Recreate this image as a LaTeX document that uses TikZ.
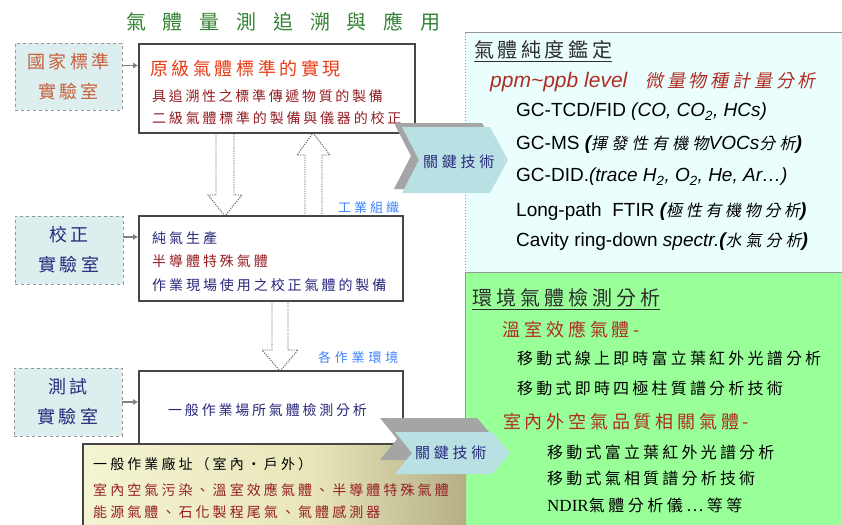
\documentclass[tikz,border=0pt]{standalone}
\usepackage{fontspec}
\setmainfont{Noto Sans CJK TC}
\newfontfamily\lat{Liberation Sans}
\newfontfamily\latser{Liberation Serif}
\newfontfamily\cjksl{Noto Sans CJK TC}[FakeSlant=0.2]
\usetikzlibrary{arrows.meta}

% size and tracking for a run of text
\newcommand\fs[2]{\fontsize{#1}{#1}\selectfont\addfontfeature{LetterSpace=#2}}

\definecolor{titlegreen}{RGB}{50,130,50}
\definecolor{natorange}{RGB}{200,95,60}
\definecolor{headred}{RGB}{232,60,22}
\definecolor{darkred}{RGB}{150,30,35}
\definecolor{envred}{RGB}{175,45,35}
\definecolor{navy}{RGB}{40,40,125}
\definecolor{linkblue}{RGB}{60,130,255}
\definecolor{labfill}{RGB}{220,238,238}
\definecolor{labline}{RGB}{150,150,150}
\definecolor{boxline}{RGB}{70,70,70}
\definecolor{puretop}{RGB}{234,254,254}
\definecolor{envgreen}{RGB}{153,255,153}
\definecolor{keyteal}{RGB}{185,225,228}
\definecolor{keyshadow}{RGB}{165,165,165}
\definecolor{feedgray}{RGB}{130,130,130}
\definecolor{dotgray}{RGB}{90,90,90}
\definecolor{headgray}{RGB}{45,45,45}
\definecolor{fadeA}{RGB}{255,255,232}
\definecolor{fadeB}{RGB}{232,230,185}
\definecolor{fadeC}{RGB}{115,105,68}
\pgfdeclarehorizontalshading{groundfade}{100bp}{color(0bp)=(fadeA); color(55bp)=(fadeB); color(100bp)=(fadeC)}

\tikzset{
  labbox/.style={draw=labline, dashed, fill=labfill, line width=0.9pt},
  labtext/.style={font=\fontsize{18}{30}\selectfont\addfontfeature{LetterSpace=17}, align=center},
  mainbox/.style={draw=boxline, fill=white, line width=1.6pt, inner sep=0},
  feed/.style={draw=feedgray, line width=1.2pt, -{Latex[length=5pt,width=6pt]}},
  hollow/.style={draw=dotgray, fill=white, dash pattern=on 1.2pt off 1.2pt, line width=0.9pt},
  txt/.style={inner sep=0, anchor=west},
  keyface/.style={fill=keyteal},
  keyback/.style={fill=keyshadow},
}

\begin{document}
\begin{tikzpicture}[x=1pt,y=-1pt]
\useasboundingbox (0,0) rectangle (842,524);

% right-hand panels
\fill[puretop] (465,33) rectangle (842,272);
\draw[labline, line width=1pt] (465,33) -- (842,33);
\draw[labline, dotted, line width=1pt] (465,33) -- (465,272);
\fill[envgreen] (465,272) rectangle (842,526);
\draw[labline, line width=1pt] (465,272) -- (842,272);
\draw[labline, line width=1pt] (465,272) -- (465,526);

% title
\node[txt, text=titlegreen] (title) at (126,22) {\fs{20}{84}氣體量測追溯與應用};

% hollow flow arrows between the levels
\draw[hollow] (216,133) -- (216,195) -- (208,195) -- (225,216) -- (242,195) -- (234,195) -- (234,133);
\draw[hollow] (305,216) -- (305,155) -- (297,155) -- (313,133) -- (330,155) -- (322,155) -- (322,216);
\draw[hollow] (272,301) -- (272,350) -- (262,350) -- (280,371) -- (298,350) -- (288,350) -- (288,301);

% laboratories
\node[labbox, minimum width=107pt, minimum height=67pt] (lab1) at (68.5,76.5) {};
\node[labtext, text=natorange] (lab1t) at (lab1) {國家標準\\實驗室};
\node[labbox, minimum width=108pt, minimum height=68pt] (lab2) at (69,250) {};
\node[labtext, text=navy] (lab2t) at (lab2) {校正\\實驗室};
\node[labbox, minimum width=108pt, minimum height=68pt] (lab3) at (68,402) {};
\node[labtext, text=navy] (lab3t) at (lab3) {測試\\實驗室};

% activity boxes
\node[mainbox, minimum width=276pt, minimum height=89pt] (boxA) at (277,88.5) {};
\node[mainbox, minimum width=264pt, minimum height=85pt] (boxB) at (271,258.5) {};
\node[mainbox, minimum width=264pt, minimum height=73pt] (boxC) at (271,407.5) {};

% laboratory feeds
\coordinate (f1) at ([yshift=11pt]lab1.east);
\coordinate (f2) at ([yshift=13pt]lab2.east);
\coordinate (f3) at (lab3.east);
\draw[feed] (f1) -- (f1 -| boxA.west);
\draw[feed] (f2) -- (f2 -| boxB.west);
\draw[feed] (f3) -- (f3 -| boxC.west);

% box texts
\node[txt, text=headred] (a1) at (150,69) {\fs{18}{20}原級氣體標準的實現};
\node[txt, text=darkred] (a2) at (152,96) {\fs{14}{19}具追溯性之標準傳遞物質的製備};
\node[txt, text=darkred] (a3) at (152,118) {\fs{14}{20}二級氣體標準的製備與儀器的校正};

\node[txt, text=navy] (b1) at (152,238) {\fs{14}{21}純氣生產};
\node[txt, text=darkred] (b2) at (152,261) {\fs{14}{21}半導體特殊氣體};
\node[txt, text=navy] (b3) at (152,285) {\fs{14}{21}作業現場使用之校正氣體的製備};

\node[txt, text=navy] (c1) at (168,410) {\fs{14}{20}一般作業場所氣體檢測分析};

\node[txt, text=linkblue] (ind) at (338,208) {\fs{13}{23}工業組織};
\node[txt, text=linkblue] (env) at (318,358) {\fs{13}{29}各作業環境};

% work sites
\path[shading=groundfade] (83,444) rectangle (466,526);
\draw[boxline, line width=1.4pt] (83,526) -- (83,444) -- (466,444);
\node[txt, text=black] (s1) at (93,464) {\fs{14}{22}一般作業廠址（室內・戶外）};
\node[txt, text=darkred] (s2) at (93,490) {\fs{14}{22}室內空氣污染、溫室效應氣體、半導體特殊氣體};
\node[txt, text=darkred] (s3) at (93,512) {\fs{14}{22}能源氣體、石化製程尾氣、氣體感測器};

% key technology markers
\fill[keyback, shift={(-8,-4)}] (402,127) -- (490,127) -- (508,160) -- (490,193) -- (402,193) -- (419,160) -- cycle;
\fill[keyface] (402,127) -- (490,127) -- (508,160) -- (490,193) -- (402,193) -- (419,160) -- cycle;
\node[txt, text=navy] (key1) at (423,162) {\fs{15}{25}關鍵技術};
\fill[keyback, shift={(-15,-14)}] (395,432) -- (492,432) -- (510,453) -- (492,474) -- (395,474) -- (412,453) -- cycle;
\fill[keyface] (395,432) -- (492,432) -- (510,453) -- (492,474) -- (395,474) -- (412,453) -- cycle;
\node[txt, text=navy] (key2) at (415,453) {\fs{15}{25}關鍵技術};

% purity determination
\node[txt, text=headgray] (h1) at (474,50) {\fs{20}{18}氣體純度鑑定};
\draw[headgray, line width=1pt] ([yshift=-2pt]h1.south west) -- ([yshift=-2pt]h1.south east);
\node[txt, text=envred] (p0) at (490,82) {{\lat\itshape\fontsize{21}{21}\selectfont ppm\textasciitilde ppb level}\hspace{18pt}{\cjksl\fs{18}{21}微量物種計量分析}};
\node[txt] (p1) at (516,112) {\lat\fontsize{19}{19}\selectfont GC-TCD/FID {\itshape (CO, CO\textsubscript{2}, HCs)}};
\node[txt] (p2) at (516,145) {\lat\fontsize{19}{19}\selectfont GC-MS {\bfseries\itshape (}{\cjksl\fs{16}{27}揮發性有機物}{\itshape VOCs}{\cjksl\fs{16}{27}分析}{\bfseries\itshape )}};
\node[txt] (p3) at (516,177) {\lat\fontsize{19}{19}\selectfont GC-DID.{\itshape (trace H\textsubscript{2}, O\textsubscript{2}, He, Ar…)}};
\node[txt] (p4) at (516,212) {\lat\fontsize{19}{19}\selectfont Long-path\ \ FTIR {\bfseries\itshape (}{\cjksl\fs{16}{23}極性有機物分析}{\bfseries\itshape )}};
\node[txt] (p5) at (516,242) {\lat\fontsize{19}{19}\selectfont Cavity ring-down {\itshape spectr.}{\bfseries\itshape (}{\cjksl\fs{16}{25}水氣分析}{\bfseries\itshape )}};

% environmental analysis
\node[txt, text=headgray] (h2) at (472,298) {\fs{20}{20}環境氣體檢測分析};
\draw[headgray, line width=1pt] ([yshift=-2pt]h2.south west) -- ([yshift=-2pt]h2.south east);
\node[txt, text=envred] (e1) at (502,330) {\fs{18}{22}溫室效應氣體-};
\node[txt] (e2) at (517,358) {\fs{16}{20}移動式線上即時富立葉紅外光譜分析};
\node[txt] (e3) at (517,388) {\fs{16}{20}移動式即時四極柱質譜分析技術};
\node[txt, text=envred] (e4) at (503,422) {\fs{18}{21}室內外空氣品質相關氣體-};
\node[txt] (e5) at (547,452) {\fs{16}{20}移動式富立葉紅外光譜分析};
\node[txt] (e6) at (547,478) {\fs{16}{20}移動式氣相質譜分析技術};
\node[txt] (e7) at (547,505) {{\latser\fontsize{17}{17}\selectfont NDIR}\fs{16}{22}氣體分析儀…等等};
\end{tikzpicture}
\end{document}
